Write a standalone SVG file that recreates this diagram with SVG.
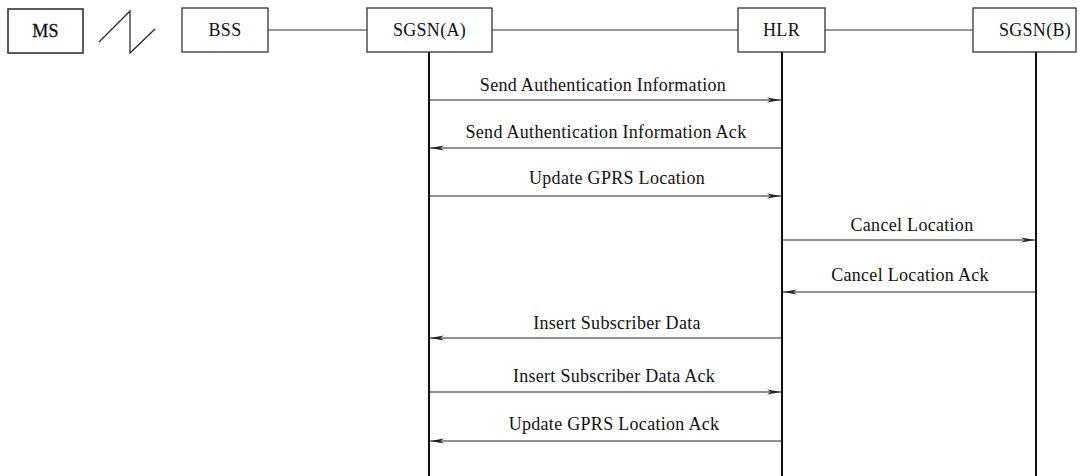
<svg xmlns="http://www.w3.org/2000/svg" width="1091" height="476" viewBox="0 0 1091 476">
<style>
.box{fill:#fff;stroke:#333;stroke-width:1.3}
.lbl{font-family:"Liberation Serif",serif;font-size:18px;letter-spacing:0.3px;fill:#111;text-anchor:middle;dominant-baseline:central}
.life{stroke:#111;stroke-width:2}
.link{stroke:#333;stroke-width:1.2;fill:none}
.msg{stroke:#222;stroke-width:1.2;fill:none}
</style>
<defs>
<marker id="ah" viewBox="0 0 14 6" refX="14" refY="3" markerWidth="14" markerHeight="6" markerUnits="userSpaceOnUse" orient="auto">
<path d="M0,0.6 L14,3 L0,5.4 L4,3 Z" fill="#222"/>
</marker>
</defs>
<rect width="1091" height="476" fill="#fff"/>
<g id="links">
<polyline class="link" points="99,42 130,11 130,53 155,29" style="stroke:#222"/>
<line class="link" x1="268" y1="30" x2="367" y2="30"/>
<line class="link" x1="492" y1="30" x2="738" y2="30"/>
<line class="link" x1="825" y1="30" x2="973" y2="30"/>
</g>
<g id="MS"><rect class="box" x="8" y="9" width="75" height="44" style="stroke-width:1.6"/><text class="lbl" x="45.5" y="31" style="stroke:#111;stroke-width:0.3">MS</text></g>
<g id="BSS"><rect class="box" x="182" y="8" width="86" height="44"/><text class="lbl" x="225" y="30">BSS</text></g>
<g id="SGSN_A"><rect class="box" x="367" y="8" width="125" height="44"/><text class="lbl" x="429.5" y="30">SGSN(A)</text></g>
<g id="HLR"><rect class="box" x="738" y="8" width="87" height="44"/><text class="lbl" x="781.5" y="30">HLR</text></g>
<g id="SGSN_B"><rect class="box" x="973" y="8" width="103" height="44"/><text class="lbl" x="1035" y="30">SGSN(B)</text></g>
<g id="lifelines">
<line class="life" x1="429" y1="52" x2="429" y2="476"/>
<line class="life" x1="782" y1="52" x2="782" y2="476"/>
<line class="life" x1="1036" y1="52" x2="1036" y2="476"/>
</g>
<g id="connectors">
<line class="msg" x1="430" y1="100" x2="781" y2="100" marker-end="url(#ah)"/>
<line class="msg" x1="781" y1="148" x2="430" y2="148" marker-end="url(#ah)"/>
<line class="msg" x1="430" y1="196" x2="781" y2="196" marker-end="url(#ah)"/>
<line class="msg" x1="783" y1="240" x2="1035" y2="240" marker-end="url(#ah)"/>
<line class="msg" x1="1035" y1="292" x2="783" y2="292" marker-end="url(#ah)"/>
<line class="msg" x1="781" y1="338" x2="430" y2="338" marker-end="url(#ah)"/>
<line class="msg" x1="430" y1="392" x2="781" y2="392" marker-end="url(#ah)"/>
<line class="msg" x1="781" y1="441" x2="430" y2="441" marker-end="url(#ah)"/>
<text class="lbl" x="603" y="85">Send Authentication Information</text>
<text class="lbl" x="606" y="132">Send Authentication Information Ack</text>
<text class="lbl" x="617" y="178">Update GPRS Location</text>
<text class="lbl" x="912" y="225">Cancel Location</text>
<text class="lbl" x="910" y="275">Cancel Location Ack</text>
<text class="lbl" x="617" y="323">Insert Subscriber Data</text>
<text class="lbl" x="614" y="376">Insert Subscriber Data Ack</text>
<text class="lbl" x="614" y="424">Update GPRS Location Ack</text>
</g>
</svg>
